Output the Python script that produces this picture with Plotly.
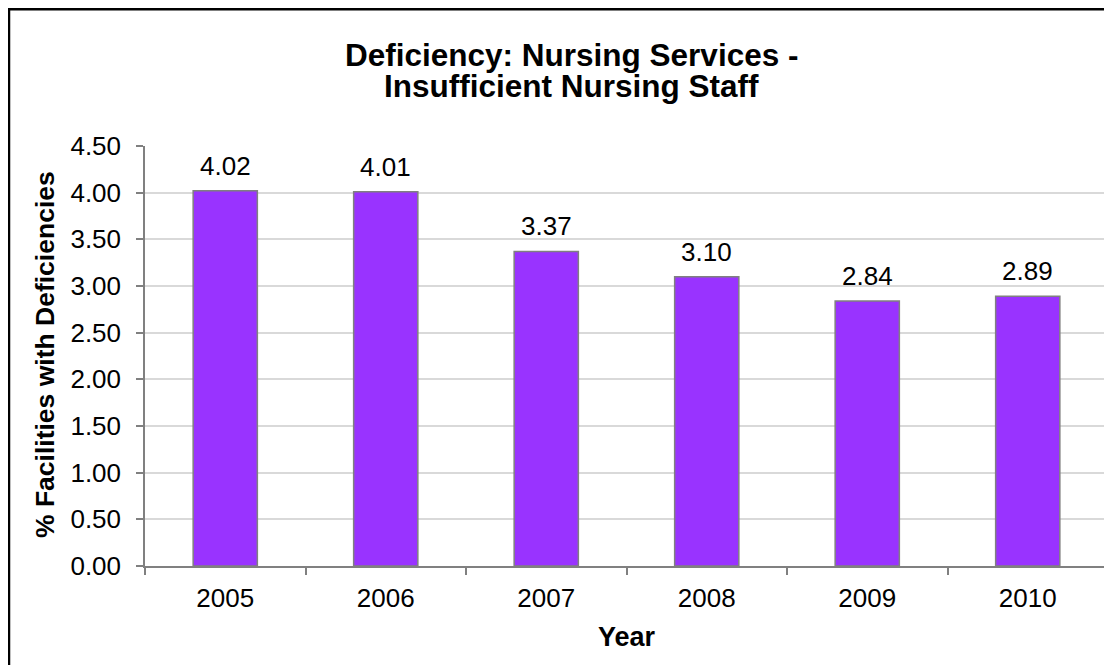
import plotly.graph_objects as go

years = ["2005", "2006", "2007", "2008", "2009", "2010"]
values = [4.02, 4.01, 3.37, 3.10, 2.84, 2.89]
y_ticks = [0, 0.5, 1.0, 1.5, 2.0, 2.5, 3.0, 3.5, 4.0, 4.5]

OFF = 8  # page body margin
W, H = 1104, 657
L, R, T, B = 137, 4, 138, 99
pw, ph = W - L - R, H - T - B

def px(x):  # reference-pixel x -> paper
    return (x - OFF - L) / pw

def py(y):  # reference-pixel y -> paper
    return (H - B - (y - OFF)) / ph

FONT = "Liberation Sans, Arial, sans-serif"

fig = go.Figure()
fig.add_trace(go.Bar(
    x=years, y=values, width=0.4,
    marker=dict(color="#9933FF", line=dict(color="#808080", width=1.5)),
    showlegend=False, hoverinfo="x+y",
))

for i, v in enumerate(values):
    fig.add_annotation(x=i, y=v, text=f"{v:.2f}", showarrow=False,
                       yanchor="bottom", yshift=8,
                       font=dict(family=FONT, size=26, color="black"))

fig.add_annotation(xref="paper", yref="paper", x=px(571), y=py(55),
                   text="<b>Deficiency: Nursing Services -</b>", showarrow=False,
                   xanchor="center", yanchor="middle",
                   font=dict(family=FONT, size=31.5, color="black"))
fig.add_annotation(xref="paper", yref="paper", x=px(571), y=py(85.5),
                   text="<b>Insufficient Nursing Staff</b>", showarrow=False,
                   xanchor="center", yanchor="middle",
                   font=dict(family=FONT, size=31.5, color="black"))
fig.add_annotation(xref="paper", yref="paper", x=px(45), y=py(355),
                   text="<b>% Facilities with Deficiencies</b>", showarrow=False,
                   textangle=-90, xanchor="center", yanchor="middle",
                   font=dict(family=FONT, size=26.5, color="black"))
fig.add_annotation(xref="paper", yref="paper", x=0.5, y=py(637),
                   text="<b>Year</b>", showarrow=False,
                   xanchor="center", yanchor="middle",
                   font=dict(family=FONT, size=27, color="black"))

fig.add_shape(type="rect", xref="paper", yref="paper",
              x0=px(9), x1=px(1140), y0=py(700), y1=py(9.2),
              line=dict(color="black", width=2.5), fillcolor="rgba(0,0,0,0)")

fig.update_layout(
    width=W, height=H,
    margin=dict(l=L, r=R, t=T, b=B),
    paper_bgcolor="white", plot_bgcolor="white",
    bargap=0.6,
)
fig.update_xaxes(
    type="category", range=[-0.5, 5.5], showline=True, linecolor="#808080", linewidth=1.5,
    ticks="outside", tickson="boundaries", ticklen=7, tickcolor="#808080", tickwidth=1.5,
    tickfont=dict(family=FONT, size=26, color="black"), tickangle=0,
    ticklabelstandoff=8, showgrid=False,
)
fig.update_yaxes(
    range=[0, 4.5], tickvals=y_ticks, tickformat=".2f",
    showline=True, linecolor="#808080", linewidth=1.5,
    ticks="outside", ticklen=7, tickcolor="#808080", tickwidth=1.5,
    tickfont=dict(family=FONT, size=26, color="black"),
    ticklabelstandoff=10,
    showgrid=True, gridcolor="#D9D9D9", gridwidth=1.5, zeroline=False,
)

fig.write_html("out.html")
